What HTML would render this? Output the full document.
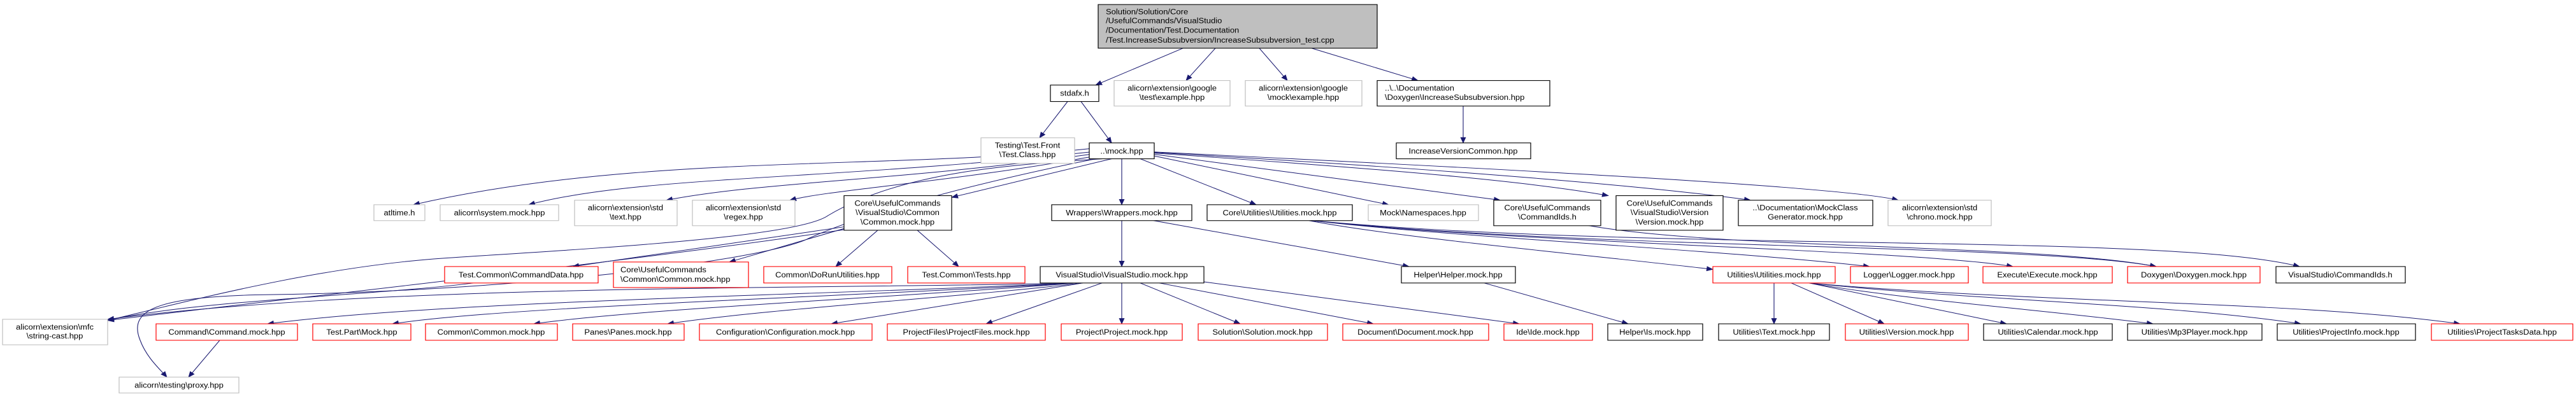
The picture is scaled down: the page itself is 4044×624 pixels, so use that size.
<!DOCTYPE html>
<html><head><meta charset="utf-8"><style>
html,body{margin:0;padding:0;background:#fff;width:4044px;height:624px;overflow:hidden}
svg text{font-family:"Liberation Sans","DejaVu Sans",sans-serif;font-size:13px;fill:#000}
</style></head><body>
<svg width="4044" height="624" viewBox="0 0 4044 624" xmlns="http://www.w3.org/2000/svg">
<defs><marker id="a" markerWidth="11" markerHeight="9" refX="10" refY="4.5" orient="auto" markerUnits="userSpaceOnUse"><path d="M0,0 L11,4.5 L0,9 z" fill="#191970"/></marker></defs>
<g transform="scale(1,0.8914)">
<g fill="none" stroke="#191970" stroke-width="1.1" marker-end="url(#a)">
<path d="M1857,85 L1720,150"/>
<path d="M1908,85 L1862,142"/>
<path d="M1977,85 L2021,142"/>
<path d="M2059,85 L2226,142"/>
<path d="M1676,179 L1632,243"/>
<path d="M1697,179 L1745,252"/>
<path d="M2297,187 L2297,252"/>
<path d="M1712,262 C1400,300 1000,270 649,361"/>
<path d="M1712,268 C1300,318 1000,310 830,361"/>
<path d="M1712,272 C1400,320 1200,320 1046,353"/>
<path d="M1715,276 C1500,320 1300,335 1240,353"/>
<path d="M1745,280 L1494,348"/>
<path d="M1730,280 C1600,290 1420,300 1300,380 C1250,420 900,440 700,455 C500,470 300,530 169,565"/>
<path d="M1761,280 L1761,361"/>
<path d="M1790,280 L1972,361"/>
<path d="M1812,275 L2180,361"/>
<path d="M1812,272 L2355,353"/>
<path d="M1812,270 C2200,300 2400,320 2525,345"/>
<path d="M1812,269 C2300,300 2600,330 2748,353"/>
<path d="M1812,268 C2400,300 2900,330 2980,353"/>
<path d="M1720,280 C1500,330 1350,380 1270,420 C1200,460 800,515 400,520 C250,525 200,545 220,600 C230,630 250,650 262,665"/>
<path d="M1378,406 L1312,470"/>
<path d="M1440,406 L1505,470"/>
<path d="M1325,400 L899,470"/>
<path d="M1325,403 L1145,462"/>
<path d="M1325,405 C1000,460 500,520 169,565"/>
<path d="M743,499 C600,520 300,530 169,565"/>
<path d="M1761,389 L1761,470"/>
<path d="M1811,389 L2212,470"/>
<path d="M1690,499 C1300,520 700,530 420,571"/>
<path d="M1690,499 C1300,525 800,540 616,571"/>
<path d="M1690,499 C1400,525 1000,545 838,571"/>
<path d="M1700,499 C1500,525 1200,545 1048,571"/>
<path d="M1700,499 L1305,571"/>
<path d="M1730,499 L1548,571"/>
<path d="M1761,499 L1761,571"/>
<path d="M1790,499 L1947,571"/>
<path d="M1820,499 L2156,571"/>
<path d="M1890,497 L2385,571"/>
<path d="M1690,499 C1300,510 600,500 169,563"/>
<path d="M2330,499 L2556,571"/>
<path d="M2055,389 C2200,420 2500,450 2689,475"/>
<path d="M2060,389 C2300,420 2700,440 2935,470"/>
<path d="M2060,389 C2400,430 3000,440 3160,470"/>
<path d="M2060,389 C2500,440 3200,430 3385,470"/>
<path d="M2060,389 C2600,445 3400,410 3610,470"/>
<path d="M2490,397 C2700,440 3200,430 3385,470"/>
<path d="M2785,499 L2785,571"/>
<path d="M2812,499 L2958,571"/>
<path d="M2840,499 L3150,571"/>
<path d="M2840,499 C3000,530 3200,545 3380,571"/>
<path d="M2840,499 C3100,530 3400,535 3612,571"/>
<path d="M2840,499 C3200,535 3600,530 3862,571"/>
<path d="M345,600 L296,665"/>
</g>
<g stroke-width="1.2">
<rect x="1724" y="8" width="438" height="77" fill="#bfbfbf" stroke="#000"/>
<text x="1736" y="25">Solution/Solution/Core</text>
<text x="1736" y="41">/UsefulCommands/VisualStudio</text>
<text x="1736" y="58">/Documentation/Test.Documentation</text>
<text x="1736" y="75">/Test.IncreaseSubsubversion/IncreaseSubsubversion_test.cpp</text>
</g>
<g fill="#fff" stroke-width="1.2">
<rect x="1649" y="150" width="76" height="29" stroke="#000"/>
<rect x="1749" y="142" width="182" height="45" stroke="#bfbfbf"/>
<rect x="1955" y="142" width="183" height="45" stroke="#bfbfbf"/>
<rect x="2162" y="142" width="271" height="45" stroke="#000"/>
<rect x="2192" y="252" width="211" height="28" stroke="#000"/>
<rect x="1540" y="243" width="147" height="45" stroke="#bfbfbf"/>
<rect x="1710" y="252" width="102" height="28" stroke="#000"/>
<rect x="587" y="361" width="80" height="28" stroke="#bfbfbf"/>
<rect x="691" y="361" width="186" height="28" stroke="#bfbfbf"/>
<rect x="902" y="353" width="161" height="45" stroke="#bfbfbf"/>
<rect x="1087" y="353" width="161" height="45" stroke="#bfbfbf"/>
<rect x="1325" y="345" width="169" height="61" stroke="#000"/>
<rect x="1651" y="361" width="220" height="28" stroke="#000"/>
<rect x="1895" y="361" width="228" height="28" stroke="#000"/>
<rect x="2148" y="361" width="173" height="28" stroke="#bfbfbf"/>
<rect x="2345" y="353" width="168" height="45" stroke="#000"/>
<rect x="2537" y="345" width="168" height="61" stroke="#000"/>
<rect x="2729" y="353" width="211" height="45" stroke="#000"/>
<rect x="2964" y="353" width="162" height="45" stroke="#bfbfbf"/>
<rect x="698" y="470" width="241" height="29" stroke="#f00"/>
<rect x="963" y="462" width="212" height="45" stroke="#f00"/>
<rect x="1199" y="470" width="201" height="29" stroke="#f00"/>
<rect x="1425" y="470" width="184" height="29" stroke="#f00"/>
<rect x="1633" y="470" width="257" height="29" stroke="#000"/>
<rect x="2200" y="470" width="179" height="29" stroke="#000"/>
<rect x="2689" y="470" width="192" height="29" stroke="#f00"/>
<rect x="2905" y="470" width="185" height="29" stroke="#f00"/>
<rect x="3113" y="470" width="203" height="29" stroke="#f00"/>
<rect x="3340" y="470" width="208" height="29" stroke="#f00"/>
<rect x="3573" y="470" width="203" height="29" stroke="#000"/>
<rect x="4" y="563" width="165" height="45" stroke="#bfbfbf"/>
<rect x="245" y="571" width="222" height="29" stroke="#f00"/>
<rect x="491" y="571" width="154" height="29" stroke="#f00"/>
<rect x="668" y="571" width="207" height="29" stroke="#f00"/>
<rect x="899" y="571" width="175" height="29" stroke="#f00"/>
<rect x="1098" y="571" width="271" height="29" stroke="#f00"/>
<rect x="1393" y="571" width="248" height="29" stroke="#f00"/>
<rect x="1666" y="571" width="190" height="29" stroke="#f00"/>
<rect x="1881" y="571" width="203" height="29" stroke="#f00"/>
<rect x="2108" y="571" width="229" height="29" stroke="#f00"/>
<rect x="2361" y="571" width="139" height="29" stroke="#f00"/>
<rect x="2524" y="571" width="149" height="29" stroke="#000"/>
<rect x="2698" y="571" width="174" height="29" stroke="#000"/>
<rect x="2897" y="571" width="193" height="29" stroke="#f00"/>
<rect x="3114" y="571" width="202" height="29" stroke="#000"/>
<rect x="3340" y="571" width="211" height="29" stroke="#000"/>
<rect x="3575" y="571" width="217" height="29" stroke="#000"/>
<rect x="3817" y="571" width="222" height="29" stroke="#f00"/>
<rect x="187" y="665" width="188" height="28" stroke="#bfbfbf"/>
</g>
<g text-anchor="middle">
<text x="1687" y="169">stdafx.h</text>
<text x="1840" y="160">alicorn\extension\google</text><text x="1840" y="176">\test\example.hpp</text>
<text x="2046" y="160">alicorn\extension\google</text><text x="2046" y="176">\mock\example.hpp</text>
<text x="2297" y="271">IncreaseVersionCommon.hpp</text>
<text x="1613" y="261">Testing\Test.Front</text><text x="1613" y="277">\Test.Class.hpp</text>
<text x="1761" y="271">..\mock.hpp</text>
<text x="627" y="380">atltime.h</text>
<text x="784" y="380">alicorn\system.mock.hpp</text>
<text x="982" y="371">alicorn\extension\std</text><text x="982" y="387">\text.hpp</text>
<text x="1167" y="371">alicorn\extension\std</text><text x="1167" y="387">\regex.hpp</text>
<text x="1409" y="363">Core\UsefulCommands</text><text x="1409" y="379">\VisualStudio\Common</text><text x="1409" y="396">\Common.mock.hpp</text>
<text x="1761" y="380">Wrappers\Wrappers.mock.hpp</text>
<text x="2009" y="380">Core\Utilities\Utilities.mock.hpp</text>
<text x="2234" y="380">Mock\Namespaces.hpp</text>
<text x="2429" y="371">Core\UsefulCommands</text><text x="2429" y="387">\CommandIds.h</text>
<text x="2621" y="363">Core\UsefulCommands</text><text x="2621" y="379">\VisualStudio\Version</text><text x="2621" y="396">\Version.mock.hpp</text>
<text x="2834" y="371">..\Documentation\MockClass</text><text x="2834" y="387">Generator.mock.hpp</text>
<text x="3045" y="371">alicorn\extension\std</text><text x="3045" y="387">\chrono.mock.hpp</text>
<text x="818" y="489">Test.Common\CommandData.hpp</text>
<text x="1299" y="489">Common\DoRunUtilities.hpp</text>
<text x="1517" y="489">Test.Common\Tests.hpp</text>
<text x="1761" y="489">VisualStudio\VisualStudio.mock.hpp</text>
<text x="2289" y="489">Helper\Helper.mock.hpp</text>
<text x="2785" y="489">Utilities\Utilities.mock.hpp</text>
<text x="2997" y="489">Logger\Logger.mock.hpp</text>
<text x="3214" y="489">Execute\Execute.mock.hpp</text>
<text x="3444" y="489">Doxygen\Doxygen.mock.hpp</text>
<text x="3674" y="489">VisualStudio\CommandIds.h</text>
<text x="86" y="581">alicorn\extension\mfc</text><text x="86" y="597">\string-cast.hpp</text>
<text x="356" y="590">Command\Command.mock.hpp</text>
<text x="568" y="590">Test.Part\Mock.hpp</text>
<text x="771" y="590">Common\Common.mock.hpp</text>
<text x="986" y="590">Panes\Panes.mock.hpp</text>
<text x="1233" y="590">Configuration\Configuration.mock.hpp</text>
<text x="1517" y="590">ProjectFiles\ProjectFiles.mock.hpp</text>
<text x="1761" y="590">Project\Project.mock.hpp</text>
<text x="1982" y="590">Solution\Solution.mock.hpp</text>
<text x="2222" y="590">Document\Document.mock.hpp</text>
<text x="2430" y="590">Ide\Ide.mock.hpp</text>
<text x="2598" y="590">Helper\Is.mock.hpp</text>
<text x="2785" y="590">Utilities\Text.mock.hpp</text>
<text x="2993" y="590">Utilities\Version.mock.hpp</text>
<text x="3215" y="590">Utilities\Calendar.mock.hpp</text>
<text x="3445" y="590">Utilities\Mp3Player.mock.hpp</text>
<text x="3683" y="590">Utilities\ProjectInfo.mock.hpp</text>
<text x="3928" y="590">Utilities\ProjectTasksData.hpp</text>
<text x="281" y="684">alicorn\testing\proxy.hpp</text>
</g>
<text x="2174" y="160">..\..\Documentation</text><text x="2174" y="176">\Doxygen\IncreaseSubsubversion.hpp</text>
<text x="974" y="480">Core\UsefulCommands</text><text x="974" y="497">\Common\Common.mock.hpp</text>
</g>
</svg>
</body></html>
